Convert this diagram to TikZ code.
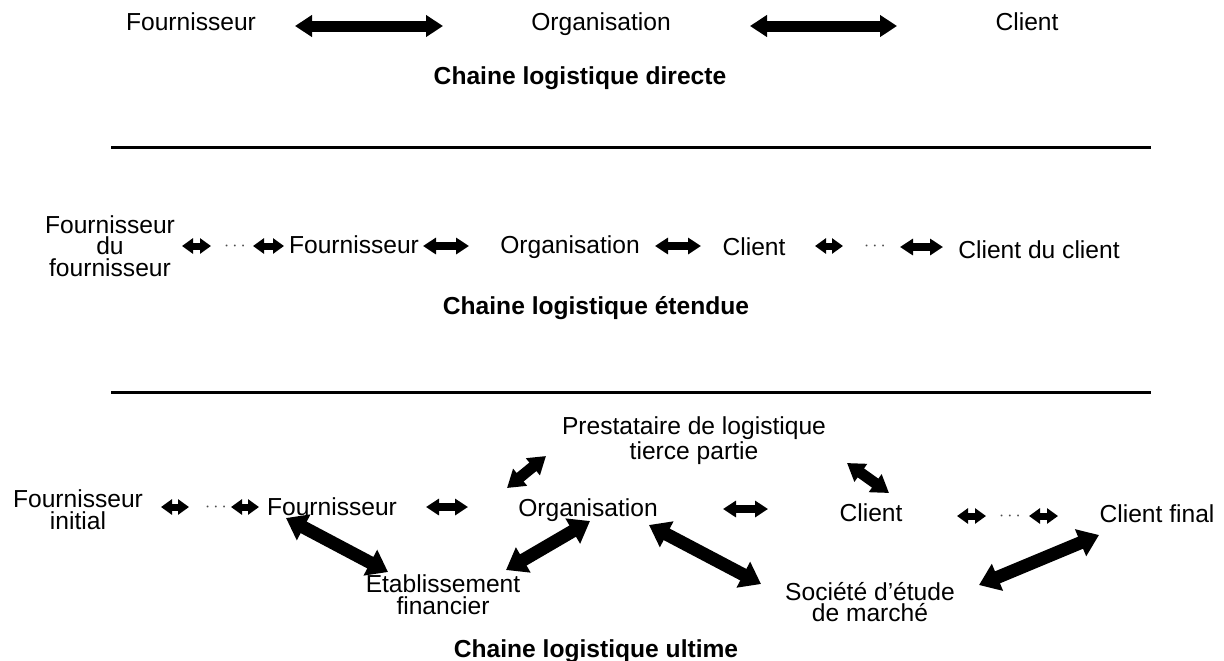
\documentclass[tikz,border=0pt]{standalone}
\usepackage{fontspec}
\setmainfont{Liberation Sans}
\usetikzlibrary{arrows.meta}

\tikzset{
  lbl/.style={inner sep=0pt,align=center,font=\fontsize{12.3}{10.9}\selectfont},
  ttl/.style={inner sep=0pt,anchor=base,font=\fontsize{12.3}{14}\selectfont\bfseries},
  dotsep/.style={inner sep=0pt,text=black!70,font=\fontsize{9}{9}\selectfont},
  bigarrow/.style={line width=5.5pt,{Triangle[length=8.5pt,width=10.5pt]}-{Triangle[length=8.5pt,width=10.5pt]}},
  midarrow/.style={line width=3.6pt,{Triangle[length=6.5pt,width=8pt]}-{Triangle[length=6.5pt,width=8pt]}},
  smallarrow/.style={line width=3.5pt,{Triangle[length=5.5pt,width=7.5pt]}-{Triangle[length=5.5pt,width=7.5pt]}},
  diagarrow/.style={line width=6.5pt,{Triangle[length=10pt,width=14pt]}-{Triangle[length=10pt,width=14pt]}}
}

\begin{document}
\begin{tikzpicture}[x=0.5pt,y=-0.5pt]
\useasboundingbox (0,0) rectangle (1224,660);
% chaine directe
\node[lbl,anchor=base] (f1) at (191,30) {Fournisseur};
\node[lbl,anchor=base] (o1) at (601,30) {Organisation};
\node[lbl,anchor=base] (c1) at (1027,30) {Client};
\node[ttl] (t1) at (580,84) {Chaine logistique directe};
\coordinate (a1) at (295,26);
\coordinate (b1) at (443,26);
\coordinate (a2) at (750,26);
\coordinate (b2) at (897,26);
\draw[bigarrow] (a1) -- (b1);
\draw[bigarrow] (a2) -- (b2);
\coordinate (l1a) at (111,147);
\coordinate (l1b) at (1151,147);
\draw[line width=1.5pt] (l1a) -- (l1b);

% chaine etendue
\node[lbl] (ff2) at (110,246) {Fournisseur\\du\\fournisseur};
\node[dotsep] (d2a) at (235,246) {$\cdots$};
\node[lbl,anchor=base] (f2) at (354,253) {Fournisseur};
\node[lbl,anchor=base] (o2) at (570,253) {Organisation};
\node[lbl,anchor=base] (c2) at (754,255) {Client};
\node[dotsep] (d2b) at (875,246) {$\cdots$};
\node[lbl,anchor=base] (cc2) at (1039,258) {Client du client};
\node[ttl] (t2) at (596,314) {Chaine logistique étendue};
\coordinate (a3) at (182,246);
\coordinate (b3) at (211,246);
\coordinate (a4) at (253,246);
\coordinate (b4) at (284,246);
\coordinate (a5) at (423,246);
\coordinate (b5) at (469,246);
\coordinate (a6) at (655,246);
\coordinate (b6) at (701,246);
\coordinate (a7) at (815,246);
\coordinate (b7) at (843,246);
\coordinate (a8) at (900,247);
\coordinate (b8) at (943,247);
\draw[smallarrow] (a3) -- (b3);
\draw[smallarrow] (a4) -- (b4);
\draw[midarrow] (a5) -- (b5);
\draw[midarrow] (a6) -- (b6);
\draw[smallarrow] (a7) -- (b7);
\draw[midarrow] (a8) -- (b8);
\coordinate (l2a) at (111,392);
\coordinate (l2b) at (1151,392);
\draw[line width=1.5pt] (l2a) -- (l2b);

% chaine ultime
\node[lbl] (p3) at (694,441) {Prestataire de logistique\\tierce partie};
\node[lbl] (fi3) at (78,510) {Fournisseur\\initial};
\node[dotsep] (d3a) at (216,507) {$\cdots$};
\node[lbl,anchor=base] (f3) at (332,515) {Fournisseur};
\node[lbl,anchor=base] (o3) at (588,516) {Organisation};
\node[lbl,anchor=base] (c3) at (871,521) {Client};
\node[dotsep] (d3b) at (1010,516) {$\cdots$};
\node[lbl,anchor=base] (cf3) at (1157,522) {Client final};
\node[lbl] (e3) at (443,595) {Etablissement\\financier};
\node[lbl] (s3) at (870,602) {Société d'étude\\de marché};
\node[ttl] (t3) at (596,657) {Chaine logistique ultime};
\coordinate (a9) at (161,507);
\coordinate (b9) at (189,507);
\coordinate (a10) at (231,507);
\coordinate (b10) at (259,507);
\coordinate (a11) at (426,507);
\coordinate (b11) at (468,507);
\coordinate (a12) at (723,509);
\coordinate (b12) at (768,509);
\coordinate (a13) at (957,516);
\coordinate (b13) at (986,516);
\coordinate (a14) at (1029,516);
\coordinate (b14) at (1058,516);
\draw[smallarrow] (a9) -- (b9);
\draw[smallarrow] (a10) -- (b10);
\draw[midarrow] (a11) -- (b11);
\draw[midarrow] (a12) -- (b12);
\draw[smallarrow] (a13) -- (b13);
\draw[smallarrow] (a14) -- (b14);
\coordinate (a15) at (507,488);
\coordinate (b15) at (546,456);
\coordinate (a16) at (847,463);
\coordinate (b16) at (889,493);
\draw[bigarrow] (a15) -- (b15);
\draw[bigarrow] (a16) -- (b16);
\coordinate (a17) at (286,518);
\coordinate (b17) at (388,572);
\coordinate (a18) at (506,570);
\coordinate (b18) at (590,521);
\coordinate (a19) at (649,525);
\coordinate (b19) at (761,584);
\coordinate (a20) at (979,585);
\coordinate (b20) at (1099,535);
\draw[diagarrow] (a17) -- (b17);
\draw[diagarrow] (a18) -- (b18);
\draw[diagarrow] (a19) -- (b19);
\draw[diagarrow] (a20) -- (b20);
\end{tikzpicture}
\end{document}
